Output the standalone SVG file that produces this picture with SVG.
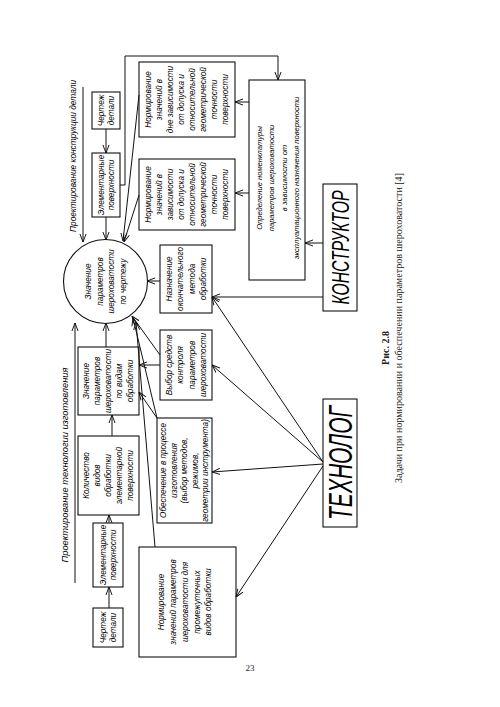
<svg xmlns="http://www.w3.org/2000/svg" width="500" height="707" viewBox="0 0 500 707">
<defs>
<marker id="a" viewBox="0 0 10 10" refX="10" refY="5" markerWidth="8" markerHeight="8" markerUnits="userSpaceOnUse" orient="auto">
<path d="M0,1.2 L10,5 L0,8.8" fill="none" stroke="#111" stroke-width="1.2"/>
</marker>
</defs>
<style>
.b{fill:none;stroke:#111;stroke-width:1.1}
.t{font-family:"Liberation Sans",Arial,sans-serif;font-style:italic;font-size:8.2px;fill:#000}
.s{font-size:7.6px}
.big{font-family:"Liberation Sans",Arial,sans-serif;font-style:italic;fill:#000}
.cap{font-family:"Liberation Serif","Times New Roman",serif;fill:#222}
#conn line,#conn polyline{fill:none;stroke:#111;stroke-width:1}
</style>
<rect width="500" height="707" fill="#fff"/>

<g id="conn">
<line x1="83" y1="87" x2="83" y2="242" marker-end="url(#a)"/>
<line x1="106" y1="129" x2="106" y2="153" marker-end="url(#a)"/>
<line x1="106" y1="217" x2="106" y2="240" marker-end="url(#a)"/>
<polyline points="120,185 125,185 125,56 278,56 278,80" marker-end="url(#a)"/>
<line x1="249" y1="102" x2="235" y2="102" marker-end="url(#a)"/>
<line x1="249" y1="193" x2="235" y2="193" marker-end="url(#a)"/>
<line x1="139" y1="95" x2="123" y2="241" marker-end="url(#a)"/>
<line x1="139" y1="195" x2="124" y2="242" marker-end="url(#a)"/>
<line x1="323" y1="243" x2="305" y2="243" marker-end="url(#a)"/>
<line x1="323" y1="297" x2="212" y2="297" marker-end="url(#a)"/>
<line x1="160" y1="281" x2="147" y2="281" marker-end="url(#a)"/>
<line x1="160" y1="365" x2="139" y2="365" marker-end="url(#a)"/>
<line x1="160" y1="355" x2="132" y2="316" marker-end="url(#a)"/>
<line x1="157" y1="418" x2="133" y2="318" marker-end="url(#a)"/>
<line x1="157" y1="418" x2="139" y2="392" marker-end="url(#a)"/>
<line x1="155" y1="547" x2="136" y2="322" marker-end="url(#a)"/>
<line x1="106" y1="347" x2="106" y2="323" marker-end="url(#a)"/>
<line x1="75" y1="583" x2="75" y2="323" marker-end="url(#a)"/>
<line x1="112" y1="436" x2="112" y2="415" marker-end="url(#a)"/>
<line x1="109" y1="523" x2="109" y2="515" marker-end="url(#a)"/>
<line x1="109" y1="608" x2="109" y2="587" marker-end="url(#a)"/>
<line x1="323" y1="462" x2="212" y2="297" marker-end="url(#a)"/>
<line x1="323" y1="462" x2="212" y2="365" marker-end="url(#a)"/>
<line x1="323" y1="464" x2="212" y2="472" marker-end="url(#a)"/>
<line x1="323" y1="466" x2="236" y2="597" marker-end="url(#a)"/>
</g>

<g id="label-konstr">
<text class="t" transform="translate(73,156) rotate(-90)" text-anchor="middle" y="3" font-size="8.5" textLength="152" lengthAdjust="spacingAndGlyphs">Проектирование конструкции детали</text>
</g>
<g id="label-tech">
<text class="t" transform="translate(65,465) rotate(-90)" text-anchor="middle" y="3" font-size="8.5" textLength="195" lengthAdjust="spacingAndGlyphs">Проектирование технологии изготовления</text>
</g>

<g id="cherteg-top">
<rect class="b" x="92" y="92" width="28" height="37"/>
<text class="t" transform="translate(106,110.5) rotate(-90)" text-anchor="middle"><tspan x="0" y="-2.2">Чертеж</tspan><tspan x="0" y="7.8">детали</tspan></text>
</g>
<g id="elem-top">
<rect class="b" x="92" y="153" width="28" height="64"/>
<text class="t" transform="translate(106,185) rotate(-90)" text-anchor="middle"><tspan x="0" y="-2.2">Элементарные</tspan><tspan x="0" y="7.8">поверхности</tspan></text>
</g>

<g id="norm1">
<rect class="b" x="139" y="62" width="96" height="75"/>
<text class="t" transform="translate(187,99.5) rotate(-90)" text-anchor="middle"><tspan x="0" y="-35.7">Нормирование</tspan><tspan x="0" y="-24.7">значений в</tspan><tspan x="0" y="-13.7">дне зависимости</tspan><tspan x="0" y="-2.7">от допуска и</tspan><tspan x="0" y="8.3">относительной</tspan><tspan x="0" y="19.3">геометрической</tspan><tspan x="0" y="30.3">точности</tspan><tspan x="0" y="41.3">поверхности</tspan></text>
</g>
<g id="norm2">
<rect class="b" x="139" y="159" width="96" height="71"/>
<text class="t" transform="translate(187,194.5) rotate(-90)" text-anchor="middle"><tspan x="0" y="-35.7">Нормирование</tspan><tspan x="0" y="-24.7">значений в</tspan><tspan x="0" y="-13.7">зависимости</tspan><tspan x="0" y="-2.7">от допуска и</tspan><tspan x="0" y="8.3">относительной</tspan><tspan x="0" y="19.3">геометрической</tspan><tspan x="0" y="30.3">точности</tspan><tspan x="0" y="41.3">поверхности</tspan></text>
</g>

<g id="nomenkl">
<rect class="b" x="249" y="80" width="56" height="200"/>
<text class="t s" transform="translate(278,178) rotate(-90)" text-anchor="middle"><tspan x="0" y="-15.9">Определение номенклатуры</tspan><tspan x="0" y="-3.6">параметров шероховатости</tspan><tspan x="0" y="8.7">в зависимости от</tspan><tspan x="0" y="21">эксплуатационного назначения поверхности</tspan></text>
</g>

<g id="konstruktor">
<rect class="b" x="323" y="184" width="34" height="127"/>
<text class="big" transform="translate(340,247.5) rotate(-90)" x="-57" y="8.5" font-size="24" textLength="114" lengthAdjust="spacingAndGlyphs">КОНСТРУКТОР</text>
</g>

<g id="circle">
<circle class="b" cx="105.5" cy="281.5" r="42"/>
<text class="t" transform="translate(105.5,281.5) rotate(-90)" text-anchor="middle"><tspan x="0" y="-14.5">Значение</tspan><tspan x="0" y="-3">параметров</tspan><tspan x="0" y="8.5">шероховатости</tspan><tspan x="0" y="20">по чертежу</tspan></text>
</g>

<g id="naznach">
<rect class="b" x="160" y="245" width="52" height="68"/>
<text class="t" transform="translate(186,279) rotate(-90)" text-anchor="middle"><tspan x="0" y="-14.5">Назначение</tspan><tspan x="0" y="-3">окончательного</tspan><tspan x="0" y="8.5">метода</tspan><tspan x="0" y="20">обработки</tspan></text>
</g>

<g id="vybor">
<rect class="b" x="160" y="330" width="52" height="70"/>
<text class="t" transform="translate(186,365) rotate(-90)" text-anchor="middle"><tspan x="0" y="-14.5">Выбор средств</tspan><tspan x="0" y="-3">контроля</tspan><tspan x="0" y="8.5">параметров</tspan><tspan x="0" y="20">шероховатости</tspan></text>
</g>

<g id="po-vidam">
<rect class="b" x="78" y="347" width="61" height="68"/>
<text class="t" transform="translate(108.5,381) rotate(-90)" text-anchor="middle"><tspan x="0" y="-19.2">Значение</tspan><tspan x="0" y="-8.2">параметров</tspan><tspan x="0" y="2.8">шероховатости</tspan><tspan x="0" y="13.8">по видам</tspan><tspan x="0" y="24.8">обработки</tspan></text>
</g>

<g id="kolichestvo">
<rect class="b" x="78" y="436" width="61" height="79"/>
<text class="t" transform="translate(108.5,475.5) rotate(-90)" text-anchor="middle"><tspan x="0" y="-19.2">Количество</tspan><tspan x="0" y="-8.2">видов</tspan><tspan x="0" y="2.8">обработки</tspan><tspan x="0" y="13.8">элементарной</tspan><tspan x="0" y="24.8">поверхности</tspan></text>
</g>

<g id="elem-bottom">
<rect class="b" x="93" y="523" width="30" height="64"/>
<text class="t" transform="translate(108,555) rotate(-90)" text-anchor="middle"><tspan x="0" y="-2.2">Элементарные</tspan><tspan x="0" y="7.8">поверхности</tspan></text>
</g>
<g id="cherteg-bottom">
<rect class="b" x="93" y="608" width="30" height="39"/>
<text class="t" transform="translate(108,627.5) rotate(-90)" text-anchor="middle"><tspan x="0" y="-2.2">Чертеж</tspan><tspan x="0" y="7.8">детали</tspan></text>
</g>

<g id="obespech">
<rect class="b" x="157" y="418" width="55" height="105"/>
<text class="t" transform="translate(184.5,470.5) rotate(-90)" text-anchor="middle"><tspan x="0" y="-18.2">Обеспечение в процессе</tspan><tspan x="0" y="-7.7">изготовления</tspan><tspan x="0" y="2.8">(выбор методов,</tspan><tspan x="0" y="13.3">режимов,</tspan><tspan x="0" y="23.8">геометрии инструмента)</tspan></text>
</g>

<g id="norm-prom">
<rect class="b" x="139" y="547" width="97" height="110"/>
<text class="t" transform="translate(185,602) rotate(-90)" text-anchor="middle"><tspan x="0" y="-20.7">Нормирование</tspan><tspan x="0" y="-8.95">значений параметров</tspan><tspan x="0" y="2.8">шероховатости для</tspan><tspan x="0" y="14.55">промежуточных</tspan><tspan x="0" y="26.3">видов обработки</tspan></text>
</g>

<g id="tehnolog">
<rect class="b" x="323" y="399" width="34" height="128"/>
<text class="big" transform="translate(340,463) rotate(-90)" x="-57" y="12" font-size="34" textLength="114" lengthAdjust="spacingAndGlyphs">ТЕХНОЛОГ</text>
</g>

<g id="caption">
<text class="cap" transform="translate(385,348) rotate(-90)" text-anchor="middle" y="3.5" font-size="10" font-weight="bold">Рис. 2.8</text>
<text class="cap" transform="translate(398,328) rotate(-90)" text-anchor="middle" y="3.5" font-size="10" textLength="310" lengthAdjust="spacingAndGlyphs">Задачи при нормировании и обеспечении параметров шероховатости [4]</text>
<text class="cap" x="250" y="671" text-anchor="middle" font-size="9">23</text>
</g>
</svg>
